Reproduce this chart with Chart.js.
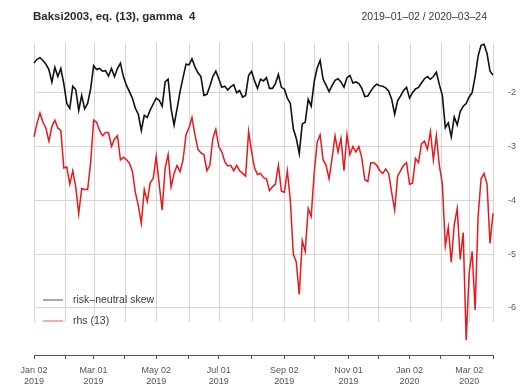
<!DOCTYPE html>
<html>
<head>
<meta charset="utf-8">
<script src="https://cdn.jsdelivr.net/npm/chart.js@4/dist/chart.umd.min.js"></script>
<style>
  html, body { margin: 0; padding: 0; background: #fff; }
  canvas { display: block; }
</style>
</head>
<body>
<canvas id="chart" width="522" height="391"></canvas>
<script>
// ---- data -------------------------------------------------------------
const TITLE = 'Baksi2003, eq. (13), gamma  4';
const DATE_RANGE = '2019\u201301\u201302 / 2020\u201303\u201324';
const SESSION_STEP = 2;     // one value every second trading session
const LAST_SESSION = 308;   // 2020-03-24

// first trading session of each month, plus the last session
const monthStarts = [0, 21, 40, 61, 82, 104, 124, 146, 168, 188, 211, 231, 252, 273, 292, 308];
const labelSessions = [0, 40, 82, 124, 168, 211, 252, 292];
const tickLabels = [
  ['Jan 02', '2019'], ['Mar 01', '2019'], ['May 02', '2019'], ['Jul 01', '2019'],
  ['Sep 02', '2019'], ['Nov 01', '2019'], ['Jan 02', '2020'], ['Mar 02', '2020']
];
const yTicks = [-6, -5, -4, -3, -2];
const seriesNames = ['risk\u2013neutral skew', 'rhs (13)'];

const skew = [
  -1.45, -1.38, -1.35, -1.40, -1.47, -1.57, -1.80, -1.53, -1.70, -1.55,
  -1.83, -2.20, -2.29, -1.88, -1.94, -2.33, -2.05, -2.30, -2.20, -1.93,
  -1.50, -1.57, -1.55, -1.60, -1.59, -1.69, -1.55, -1.70, -1.55, -1.45,
  -1.70, -1.86, -1.98, -2.10, -2.29, -2.40, -2.70, -2.42, -2.46, -2.32,
  -2.21, -2.10, -2.14, -2.25, -1.80, -1.75, -2.30, -2.60, -2.30, -1.98,
  -1.72, -1.47, -1.48, -1.37, -1.52, -1.63, -1.70, -2.05, -2.03, -1.88,
  -1.70, -1.60, -1.74, -1.90, -1.88, -1.95, -1.89, -1.85, -2.00, -1.96,
  -2.08, -2.05, -1.68, -1.60, -1.78, -1.92, -1.75, -1.78, -1.72, -1.92,
  -1.92, -1.83, -1.66, -1.90, -1.93, -2.10, -2.20, -2.67, -2.85, -3.13,
  -2.58, -2.55, -2.12, -2.25, -1.80, -1.54, -1.40, -1.75, -1.86, -1.98,
  -1.87, -1.77, -1.74, -1.80, -1.90, -1.72, -1.68, -1.82, -1.80, -1.83,
  -1.92, -2.07, -2.06, -1.97, -1.89, -1.84, -1.87, -1.88, -1.91, -1.97,
  -2.12, -2.40, -2.15, -2.06, -1.96, -1.90, -2.10, -2.00, -1.93, -1.90,
  -1.82, -1.74, -1.70, -1.75, -1.70, -1.62, -1.85, -2.05, -2.65, -2.56,
  -2.82, -2.45, -2.60, -2.35, -2.25, -2.20, -2.08, -2.00, -1.70, -1.32,
  -1.12, -1.10, -1.27, -1.60, -1.67
];

const rhs = [
  -2.82, -2.57, -2.38, -2.55, -2.66, -2.90, -2.63, -2.51, -2.66, -2.70,
  -3.40, -3.38, -3.70, -3.45, -3.75, -4.25, -3.78, -3.80, -3.80, -3.30,
  -2.51, -2.55, -2.70, -2.80, -2.74, -2.74, -3.00, -2.86, -2.80, -3.25,
  -3.20, -3.24, -3.31, -3.46, -3.85, -4.10, -4.43, -3.80, -4.02, -3.67,
  -3.60, -3.18, -3.70, -4.18, -3.40, -3.15, -3.75, -3.50, -3.35, -3.47,
  -3.25, -2.78, -2.65, -2.46, -2.78, -3.05, -3.12, -3.15, -3.45, -3.35,
  -2.85, -2.68, -3.00, -3.10, -3.28, -3.36, -3.35, -3.45, -3.35, -3.45,
  -3.50, -3.55, -2.72, -3.10, -3.40, -3.52, -3.50, -3.58, -3.60, -3.82,
  -3.75, -3.70, -3.35, -3.83, -3.85, -3.45, -4.00, -5.00, -5.15, -5.75,
  -4.75, -4.95, -4.15, -4.30, -3.50, -2.92, -2.78, -3.25, -3.35, -3.60,
  -3.22, -2.80, -3.10, -2.85, -3.45, -2.78, -3.15, -3.00, -3.10, -3.00,
  -3.22, -3.62, -3.65, -3.30, -3.30, -3.35, -3.45, -3.50, -3.42, -3.50,
  -3.85, -4.18, -3.55, -3.45, -3.35, -3.30, -3.70, -3.68, -3.22, -3.30,
  -2.95, -2.90, -3.05, -2.72, -3.25, -2.80, -3.35, -3.70, -4.85, -4.50,
  -5.15, -4.45, -4.15, -5.10, -4.60, -6.60, -5.35, -4.95, -6.04, -4.30,
  -3.60, -3.50, -3.70, -4.80, -4.24
];

// ---- styling ------------------------------------------------------------
const FONT = '"Liberation Sans", Arial, Helvetica, sans-serif';
const GRID = '#d6d6d6';
const AXIS = '#555555';
const COLORS = ['#111111', '#e6191e'];
const Y_MIN = -6.875, Y_MAX = -1.076;
const PANEL_FLOOR = -6.26;   // vertical grid lines stop at the panel's lower bound

const sessions = skew.map((_, k) => k * SESSION_STEP);
const labelFor = new Map(labelSessions.map((s, k) => [s, tickLabels[k]]));

// header texts, monthly vertical grid and the in-panel legend
const panelDecor = {
  id: 'panelDecor',
  beforeDatasetsDraw(chart) {
    const { ctx, chartArea, scales: { x, y } } = chart;
    const bottom = Math.round(y.getPixelForValue(PANEL_FLOOR));
    ctx.save();
    ctx.strokeStyle = GRID;
    ctx.lineWidth = 1;
    ctx.beginPath();
    monthStarts.forEach(s => {
      const px = Math.round(x.getPixelForValue(s)) + 0.5;
      ctx.moveTo(px, chartArea.top);
      ctx.lineTo(px, bottom);
    });
    ctx.stroke();
    ctx.restore();
  },
  afterDraw(chart) {
    const { ctx, chartArea } = chart;
    ctx.save();
    ctx.textBaseline = 'middle';
    ctx.fillStyle = '#2a2a2a';
    ctx.font = 'bold 11.5px ' + FONT;
    ctx.textAlign = 'left';
    ctx.fillText(TITLE, chartArea.left - 1, 17);
    ctx.font = '10.5px ' + FONT;
    ctx.fillStyle = '#3a3a3a';
    ctx.textAlign = 'right';
    ctx.fillText(DATE_RANGE, chartArea.right - 6, 17);

    // legend, bottom-left inside the panel
    ctx.font = '10.5px ' + FONT;
    ctx.textAlign = 'left';
    chart.data.datasets.forEach((ds, k) => {
      const ly = 300 + k * 21;
      ctx.globalAlpha = 0.6;
      ctx.strokeStyle = ds.borderColor;
      ctx.lineWidth = 1.2;
      ctx.beginPath();
      ctx.moveTo(chartArea.left + 9, ly);
      ctx.lineTo(chartArea.left + 29, ly);
      ctx.stroke();
      ctx.globalAlpha = 1;
      ctx.fillStyle = '#3a3a3a';
      ctx.fillText(ds.label, chartArea.left + 39, ly);
    });
    ctx.restore();
  }
};

new Chart(document.getElementById('chart'), {
  type: 'line',
  data: {
    labels: sessions,
    datasets: [
      { label: seriesNames[0], data: skew, borderColor: COLORS[0], borderWidth: 1.6 },
      { label: seriesNames[1], data: rhs, borderColor: COLORS[1], borderWidth: 1.5 }
    ]
  },
  options: {
    responsive: false,
    animation: false,
    devicePixelRatio: 1,
    layout: { padding: { left: 34, top: 43, right: 0, bottom: 0 } },
    elements: {
      point: { radius: 0 },
      line: { tension: 0, fill: false }
    },
    datasets: { line: { clip: false } },
    plugins: {
      legend: { display: false },
      title: { display: false },
      tooltip: { enabled: false }
    },
    scales: {
      x: {
        type: 'linear',
        min: 0,
        max: LAST_SESSION,
        afterBuildTicks: s => { s.ticks = monthStarts.map(v => ({ value: v })); },
        afterFit: s => { s.height = 36; },
        grid: { display: true, drawOnChartArea: false, drawTicks: true, tickLength: 4, color: AXIS },
        border: { display: true, color: AXIS, width: 1 },
        ticks: {
          autoSkip: false,
          maxRotation: 0,
          minRotation: 0,
          padding: 6,
          color: '#555',
          font: { family: FONT, size: 9, lineHeight: 1.2 },
          callback: v => labelFor.get(v) || ''
        }
      },
      y: {
        position: 'right',
        min: Y_MIN,
        max: Y_MAX,
        afterBuildTicks: s => { s.ticks = yTicks.map(v => ({ value: v })); },
        afterFit: s => { s.width = 29; },
        grid: { color: GRID, drawTicks: false, lineWidth: 1 },
        border: { display: false },
        ticks: {
          padding: 15,
          color: '#555',
          font: { family: FONT, size: 9 },
          callback: v => String(v)
        }
      }
    }
  },
  plugins: [panelDecor]
});
</script>
</body>
</html>
